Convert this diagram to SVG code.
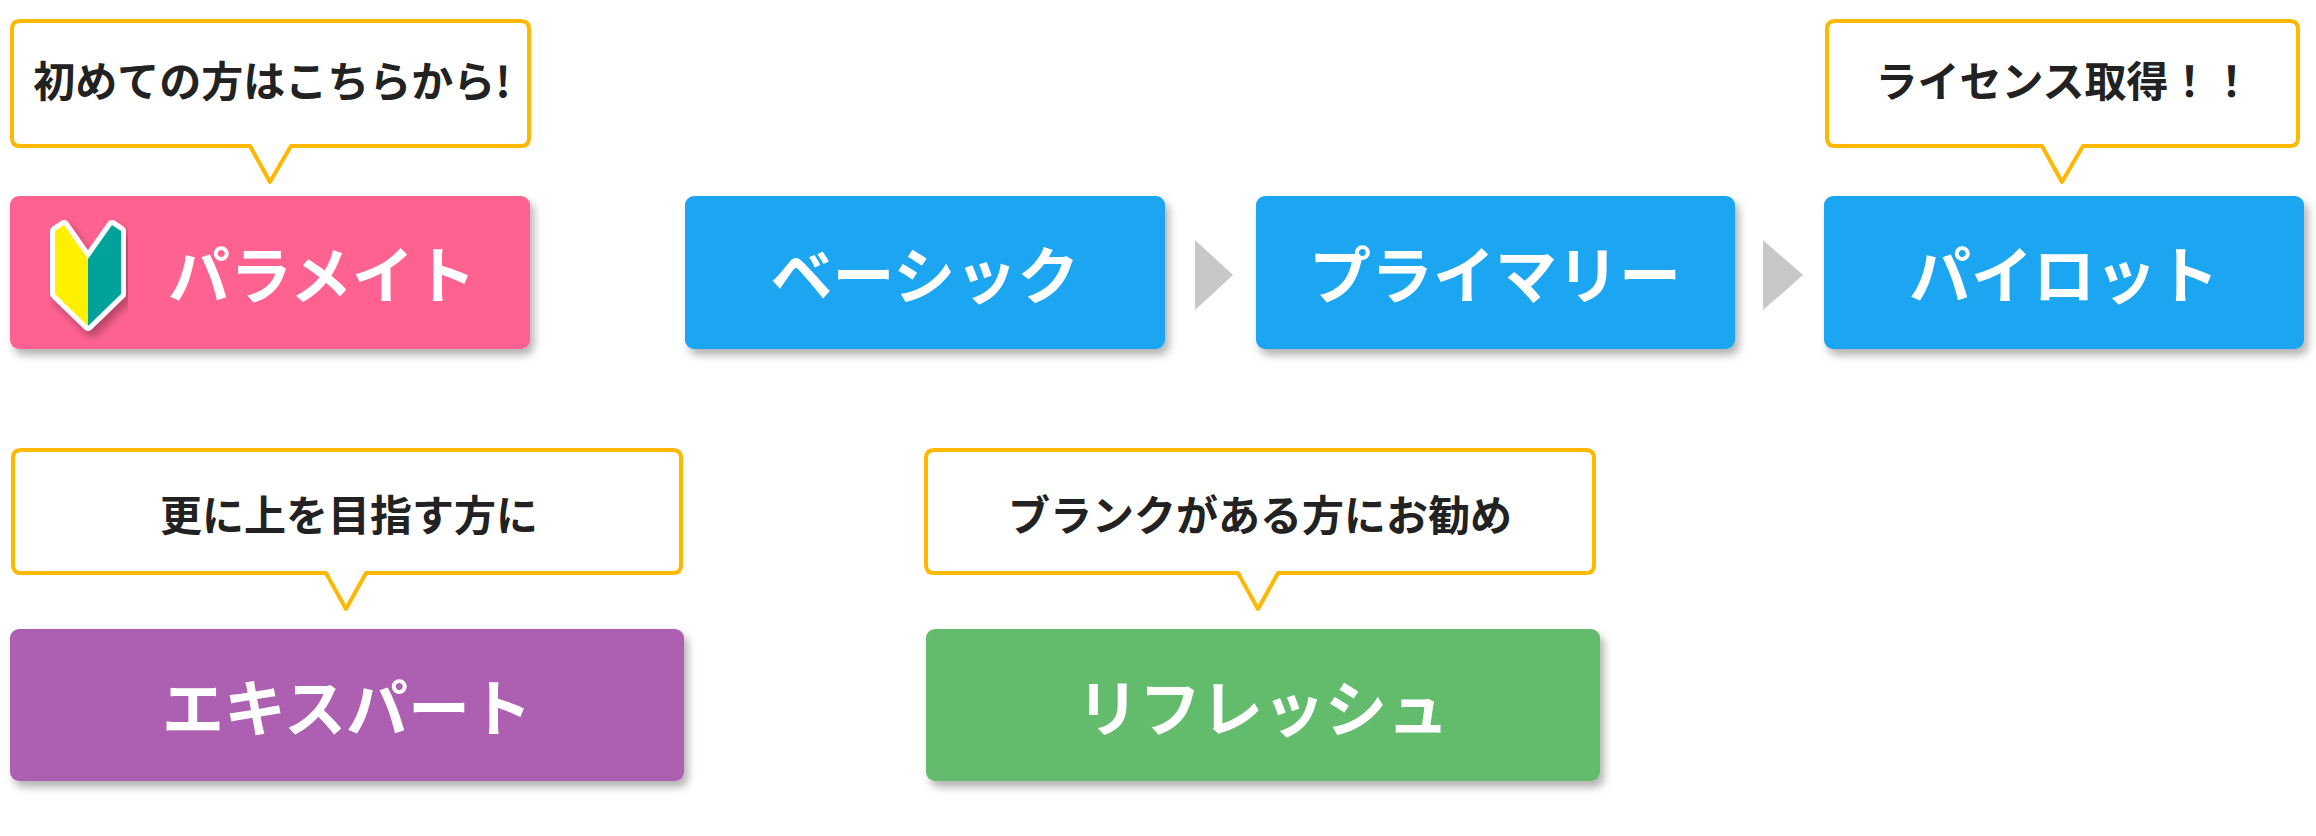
<svg xmlns="http://www.w3.org/2000/svg" width="2316" height="836" viewBox="0 0 2316 836">
<style>
.box{filter:url(#sh)}
.bt{font-family:"Noto Sans CJK JP","Noto Sans",sans-serif;font-weight:700;font-size:62px;fill:#fff;text-anchor:middle;dominant-baseline:central}
.ct{font-family:"Noto Sans CJK JP","Noto Sans",sans-serif;font-weight:700;font-size:42px;fill:#222;text-anchor:middle;dominant-baseline:central}
.co{fill:#fff;stroke:#FFB800;stroke-width:4;stroke-linejoin:round}
.arr{fill:#C8C8C8}
</style>
<defs>
<filter id="sh" x="-10%" y="-20%" width="120%" height="150%"><feDropShadow dx="4" dy="6" stdDeviation="4" flood-color="#000" flood-opacity="0.3"/></filter>
</defs>
<rect width="2316" height="836" fill="#fff"/>
<g id="callout1"><path class="co" d="M20,21 H521 Q529,21 529,29 V138 Q529,146 521,146 H291 L270,182 L250,146 H20 Q12,146 12,138 V29 Q12,21 20,21 Z"/><text class="ct" x="272" y="78">初めての方はこちらから!</text></g>
<g id="callout2"><path class="co" d="M1835,21 H2290 Q2298,21 2298,29 V138 Q2298,146 2290,146 H2083 L2062,182 L2042,146 H1835 Q1827,146 1827,138 V29 Q1827,21 1835,21 Z"/><text class="ct" x="2064" y="78">ライセンス取得！！</text></g>
<g id="callout3"><path class="co" d="M21,450 H673 Q681,450 681,458 V565 Q681,573 673,573 H366 L346,609 L326,573 H21 Q13,573 13,565 V458 Q13,450 21,450 Z"/><text class="ct" x="349" y="512">更に上を目指す方に</text></g>
<g id="callout4"><path class="co" d="M934,450 H1586 Q1594,450 1594,458 V565 Q1594,573 1586,573 H1278 L1258,609 L1238,573 H934 Q926,573 926,565 V458 Q926,450 934,450 Z"/><text class="ct" x="1260" y="512">ブランクがある方にお勧め</text></g>
<g id="connectors">
<polygon class="arr" points="1195,240 1233,275 1195,310"/>
<polygon class="arr" points="1763,240 1803,275 1763,310"/>
</g>
<g id="paramate"><rect class="box" x="10" y="196" width="520" height="153" rx="9" fill="#FF6290"/>
<path d="M88,259 L64,225 L55,231 L55,294 L88,326 L121,294 L121,231 L112,225 Z" fill="#fff" stroke="#fff" stroke-width="10" stroke-linejoin="round" filter="url(#sh)"/>
<path d="M88,259 L64,225 L55,231 L55,294 L88,326 Z" fill="#FFF000"/>
<path d="M88,259 L112,225 L121,231 L121,294 L88,326 Z" fill="#00A29A"/>
<text class="bt" x="322" y="272">パラメイト</text></g>
<g id="basic"><rect class="box" x="685" y="196" width="480" height="153" rx="9" fill="#1AA5F0"/><text class="bt" x="925" y="272">ベーシック</text></g>
<g id="primary"><rect class="box" x="1256" y="196" width="479" height="153" rx="9" fill="#1AA5F0"/><text class="bt" x="1495" y="272">プライマリー</text></g>
<g id="pilot"><rect class="box" x="1824" y="196" width="480" height="153" rx="9" fill="#1AA5F0"/><text class="bt" x="2064" y="272">パイロット</text></g>
<g id="expert"><rect class="box" x="10" y="629" width="674" height="152" rx="9" fill="#AD5FB1"/><text class="bt" x="347" y="705">エキスパート</text></g>
<g id="refresh"><rect class="box" x="926" y="629" width="674" height="152" rx="9" fill="#63BB6C"/><text class="bt" x="1263" y="705">リフレッシュ</text></g>
</svg>
